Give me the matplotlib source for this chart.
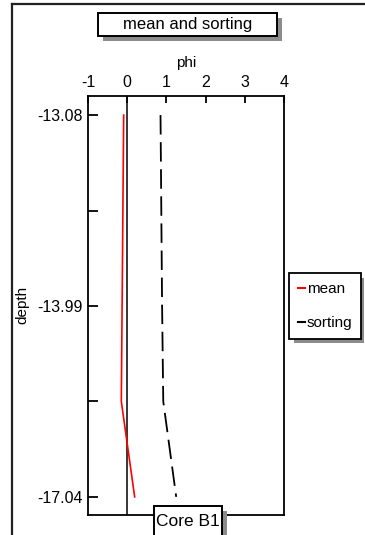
import matplotlib
matplotlib.use("Agg")
import matplotlib.pyplot as plt
from matplotlib.patches import Rectangle
from matplotlib.lines import Line2D
import numpy as np

plt.rcParams['font.family'] = ['Liberation Sans', 'DejaVu Sans']
plt.rcParams['lines.scale_dashes'] = False

# sample positions down the core and their depth labels
sample_idx = [0, 1, 2, 3, 4]
depth_labels = ['-13.08', '', '-13.99', '', '-17.04']
mean_phi = [-0.09, -0.11, -0.13, -0.15, 0.19]
sorting_phi = [0.85, 0.87, 0.89, 0.92, 1.25]
x_ticks = [-1, 0, 1, 2, 3, 4]

W, H = 365, 535
fig = plt.figure(figsize=(W / 100, H / 100), dpi=100)

def fx(px):
    return px / W

def fy(py):
    return 1 - py / H

ax = fig.add_axes([fx(88), fy(515), fx(284) - fx(88), fy(96) - fy(515)])

ax.axvline(0, color='black', lw=1.1, zorder=1)
ax.plot(mean_phi, sample_idx, color='red', lw=1.2, label='mean', zorder=3)
ax.plot(sorting_phi, sample_idx, color='black', lw=1.3, dashes=[14, 5.5],
        label='sorting', zorder=3)

ax.set_xlim(-1, 4)
ax.set_ylim(4.19, -0.2)
ax.set_xticks(x_ticks)
ax.set_xticklabels([str(t) for t in x_ticks])
ax.set_yticks(sample_idx)
ax.set_yticklabels(depth_labels)
ax.xaxis.tick_top()
ax.xaxis.set_label_position('top')
ax.tick_params(axis='x', direction='in', length=5, width=1.3, pad=4, labelsize=11.5)
ax.tick_params(axis='y', direction='in', length=7, width=1.3, pad=4, labelsize=11.5)
ax.set_xlabel('phi', fontsize=11, labelpad=6)
ax.set_ylabel('depth', fontsize=11)
ax.yaxis.set_label_coords(fx(22), fy(305), transform=fig.transFigure)
ax.yaxis.label.set_va('center')
for s in ax.spines.values():
    s.set_linewidth(1.3)

handles, labels = ax.get_legend_handles_labels()
leg = fig.legend(handles, labels, loc='upper left', bbox_to_anchor=(fx(289), fy(273)),
                 bbox_transform=fig.transFigure, borderaxespad=0,
                 handlelength=0.45, handletextpad=0.1, labelspacing=1.3,
                 borderpad=0.6, fontsize=11, fancybox=False, shadow=False,
                 framealpha=1, edgecolor='black')
leg.set_zorder(8)
leg.get_frame().set_linewidth(1.3)
for h in leg.legend_handles:
    h.set_linestyle('-')
    h.set_linewidth(1.5)

# outer frame (top and left)
fig.add_artist(Line2D([fx(12), 1], [fy(3.5), fy(3.5)], color='#222222', lw=1.6,
                      transform=fig.transFigure))
fig.add_artist(Line2D([fx(12), fx(12)], [0, fy(3.5)], color='#222222', lw=1.6,
                      transform=fig.transFigure))

def shadow_box(x0, y0, x1, y1, text, fs):
    fig.add_artist(Rectangle((fx(x0 + 5), fy(y1 + 5)), fx(x1 - x0), fy(y0) - fy(y1),
                             transform=fig.transFigure, facecolor='#8c8c8c',
                             edgecolor='none', zorder=5))
    fig.add_artist(Rectangle((fx(x0), fy(y1)), fx(x1 - x0), fy(y0) - fy(y1),
                             transform=fig.transFigure, facecolor='white',
                             edgecolor='black', lw=1.4, zorder=6))
    if text:
        fig.text(fx((x0 + x1) / 2), fy((y0 + y1) / 2), text, ha='center', va='center',
                 fontsize=fs, zorder=7)

shadow_box(98, 13, 277, 36, 'mean and sorting', 12)
shadow_box(154, 506, 222, 545, '', 12)
fig.text(fx(188), fy(521), 'Core B1', ha='center', va='center', fontsize=12.5, zorder=7)

# legend shadow
fig.add_artist(Rectangle((fx(289 + 5), fy(338 + 5)), fx(70), fy(273) - fy(338),
                         transform=fig.transFigure, facecolor='#8c8c8c',
                         edgecolor='none', zorder=1))

fig.savefig('out.png', dpi=100)
